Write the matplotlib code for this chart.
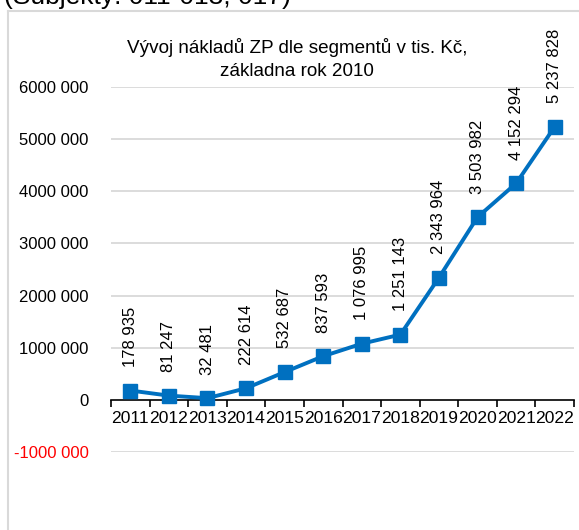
import matplotlib
matplotlib.use("Agg")
import matplotlib.pyplot as plt
from matplotlib.lines import Line2D

plt.rcParams['font.family'] = ['Liberation Sans', 'DejaVu Sans']

years = ['2011', '2012', '2013', '2014', '2015', '2016', '2017', '2018', '2019', '2020', '2021', '2022']
values = [178935, 81247, 32481, 222614, 532687, 837593, 1076995, 1251143, 2343964, 3503982, 4152294, 5237828]
ytick_vals = [-1000000, 0, 1000000, 2000000, 3000000, 4000000, 5000000, 6000000]
ytick_labels = ['-1000 000', '0', '1000 000', '2000 000', '3000 000', '4000 000', '5000 000', '6000 000']
title = 'Vývoj nákladů ZP dle segmentů v tis. Kč,\nzákladna rok 2010'
header = '(Subjekty: 011-013, 017)'

W, H = 579, 530
fig = plt.figure(figsize=(W / 100, H / 100), dpi=100)
ax = fig.add_axes([111 / W, (H - 452) / H, (574 - 111) / W, (452 - 87) / H])

x = list(range(len(years)))
blue = '#0070C0'
ax.plot(x, values, color=blue, lw=2.8, marker='s', markersize=10, zorder=5)

ax.set_xlim(-0.5, len(years) - 0.5)
ax.set_ylim(-1000000, 6000000)

for s in ['top', 'right', 'left']:
    ax.spines[s].set_visible(False)
ax.spines['bottom'].set_position(('data', 0))
ax.spines['bottom'].set_color('black')
ax.spines['bottom'].set_linewidth(1.2)

ax.set_xticks([i - 0.5 for i in range(len(years) + 1)])
ax.set_xticklabels([])
ax.set_xticks(x, minor=True)
ax.set_xticklabels(years, minor=True, fontsize=12.6)
ax.tick_params(axis='x', which='major', length=5, width=1.2, color='black', direction='out')
ax.tick_params(axis='x', which='minor', length=0, pad=8)

ax.set_yticks(ytick_vals)
ax.set_yticklabels(ytick_labels, fontsize=12)
ax.tick_params(axis='y', length=0, pad=16)
for lbl in ax.get_yticklabels():
    if lbl.get_text().startswith('-'):
        lbl.set_color('red')
ax.yaxis.grid(True, color='#d9d9d9', lw=1.3)
ax.set_axisbelow(True)
for gl, v in zip(ax.get_ygridlines(), ytick_vals):
    if v == 0:
        gl.set_visible(False)

for i, v in enumerate(values):
    txt = f"{v:,}".replace(',', ' ')
    ax.annotate(txt, (i, v), xytext=(0, 17), textcoords='offset points',
                rotation=90, ha='center', va='bottom', fontsize=12)

fig.text(297 / W, 1 - 59 / H, title, ha='center', va='center', fontsize=13.6, linespacing=1.4)

# chart border (partially cropped)
fig.add_artist(Line2D([8 / W, 8 / W], [1 - 11 / H, -0.1], color='#d9d9d9', lw=1.5, transform=fig.transFigure))
fig.add_artist(Line2D([8 / W, 1.1], [1 - 11 / H, 1 - 11 / H], color='#d9d9d9', lw=1.5, transform=fig.transFigure))

# cropped header line from surrounding document
fig.text(4 / W, 1 - 4 / H, header, ha='left', va='baseline', fontsize=19)

fig.savefig('out.png', dpi=100)
